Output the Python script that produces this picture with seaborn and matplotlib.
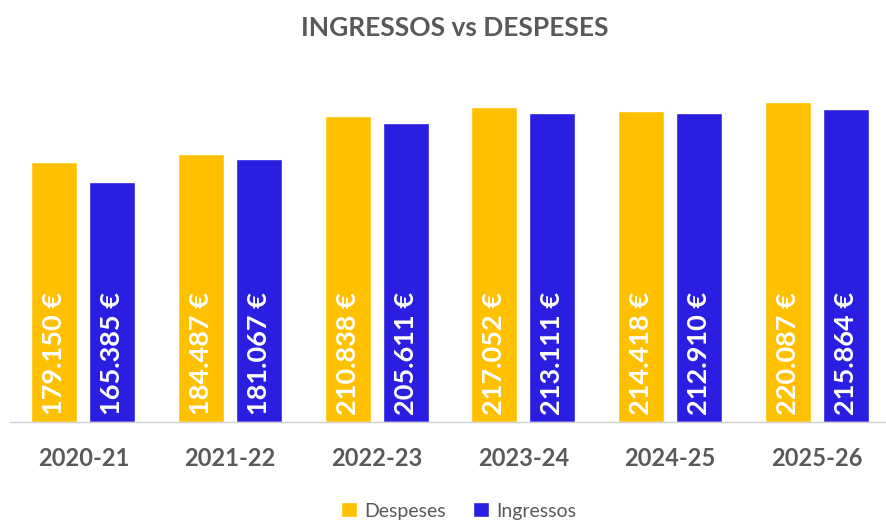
import pandas as pd
import matplotlib.pyplot as plt
import seaborn as sns

years = ["2020-21", "2021-22", "2022-23", "2023-24", "2024-25", "2025-26"]
despeses = [179150, 184487, 210838, 217052, 214418, 220087]
ingressos = [165385, 181067, 205611, 213111, 212910, 215864]
series = ["Despeses", "Ingressos"]
colors = ["#FFC000", "#2A1FE0"]

df = pd.DataFrame({
    "year": years * 2,
    "serie": [series[0]] * len(years) + [series[1]] * len(years),
    "value": despeses + ingressos,
})

sns.set_theme(style="white")
plt.rcParams["font.family"] = ["Lato", "DejaVu Sans"]

fig = plt.figure(figsize=(8.87, 5.24), dpi=100)
ax = fig.add_axes([10 / 887, 102 / 524, 880 / 887, 363 / 524])

sns.barplot(data=df, x="year", y="value", hue="serie", palette=colors,
            width=0.79, gap=0.21, saturation=1, ax=ax, legend=True)

ax.set_ylim(0, 250000)
ax.set_xlim(-0.5, len(years) - 0.5)
ax.set_yticks([])
ax.set_xlabel("")
ax.set_ylabel("")
for s in ["top", "right", "left"]:
    ax.spines[s].set_visible(False)
ax.spines["bottom"].set_color("#d0d0d0")
ax.spines["bottom"].set_linewidth(1)
ax.tick_params(axis="x", length=0, pad=18)
for lbl in ax.get_xticklabels():
    lbl.set_fontsize(17)
    lbl.set_fontweight("bold")
    lbl.set_color("#595959")

for cont in ax.containers:
    for bar in cont:
        v = bar.get_height()
        txt = f"{v:,.0f} €".replace(",", ".")
        ax.text(bar.get_x() + bar.get_width() / 2, 4500, txt, rotation=90,
                ha="center", va="bottom", color="white", fontsize=19.5,
                fontweight="bold")

fig.text(0.513, 0.947, "INGRESSOS vs DESPESES", ha="center", va="center",
         fontsize=19, fontweight="bold", color="#595959")

leg = ax.legend(loc="center", bbox_to_anchor=(0.51, -0.245), ncol=2,
                frameon=False, fontsize=14, handlelength=0.8, handleheight=0.8,
                handletextpad=0.4, columnspacing=1.4)
for t in leg.get_texts():
    t.set_color("#595959")

fig.savefig("out.png", dpi=100)
